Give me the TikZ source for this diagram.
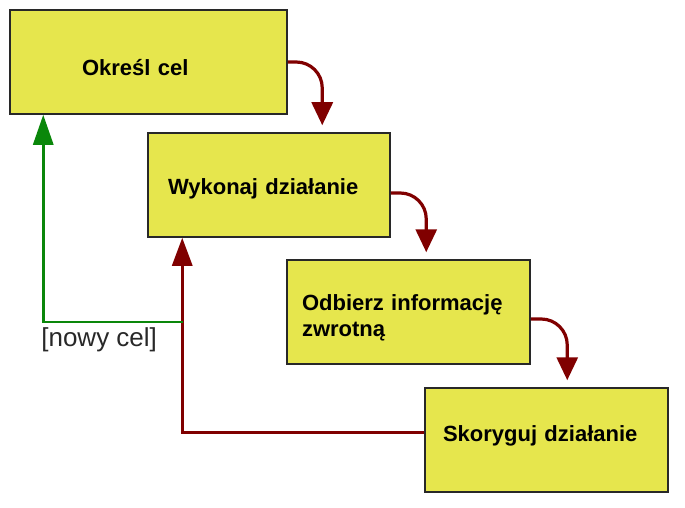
\documentclass[tikz,border=0pt]{standalone}
\usepackage{fontspec}
\setmainfont{Liberation Sans}
\usepackage{xcolor}
\usepackage{tikz}
\usetikzlibrary{arrows.meta,positioning}

\definecolor{zolty}{RGB}{230,230,77}
\definecolor{ciemnyczerwony}{RGB}{128,0,0}
\definecolor{zielony}{RGB}{10,135,10}
\definecolor{ramka}{RGB}{40,40,40}

\begin{document}
\begin{tikzpicture}[x=1pt,y=-1pt,
   krok/.style={draw=ramka,line width=1.5pt,fill=zolty,minimum height=104pt,
      align=left,font=\fontsize{22}{26}\selectfont\bfseries},
   krzywa/.style={draw=ciemnyczerwony,line width=3.2pt,rounded corners=26pt,
      -{Triangle[width=21pt,length=23pt]},shorten >=7pt},
   powrot/.style={draw=ciemnyczerwony,line width=3pt,
      -{Triangle[width=20pt,length=28pt]}},
   nowy/.style={draw=zielony,line width=2.8pt,
      -{Triangle[width=20pt,length=30pt]}}]
   \useasboundingbox (0,0) rectangle (685,508);
   \node[krok,inner xsep=72pt,text width=133pt,text height=30pt,text depth=2pt] (okresl) at (148.5,62) {Określ cel};
   \node[krok,inner xsep=20pt,text width=202pt,text height=22pt,text depth=4pt] (wykonaj) at (269,185) {Wykonaj działanie};
   \node[krok,inner xsep=15pt,text width=213pt,text height=20pt,text depth=24pt] (odbierz) at (408.5,312) {Odbierz informację\\zwrotną};
   \node[krok,inner xsep=18pt,text width=207pt,text height=16pt,text depth=14pt] (skoryguj) at (546.5,440) {Skoryguj działanie};
   \coordinate (rozgalezienie) at (183,322);
   \draw[krzywa] (okresl.east) -| ([xshift=175pt]wykonaj.north west);
   \draw[krzywa] ([yshift=-8pt]wykonaj.east) -| ([xshift=140pt]odbierz.north west);
   \draw[krzywa] ([yshift=-7pt]odbierz.east) -| ([xshift=143pt]skoryguj.north west);
   \draw[powrot] ([yshift=8pt]skoryguj.west) -| ([xshift=35pt]wykonaj.south west);
   \draw[nowy] (rozgalezienie) -| ([xshift=34pt]okresl.south west)
      node[pos=0.3,below,inner sep=4pt,text=ramka,font=\fontsize{26}{31}\selectfont] {[nowy cel]};
\end{tikzpicture}
\end{document}
